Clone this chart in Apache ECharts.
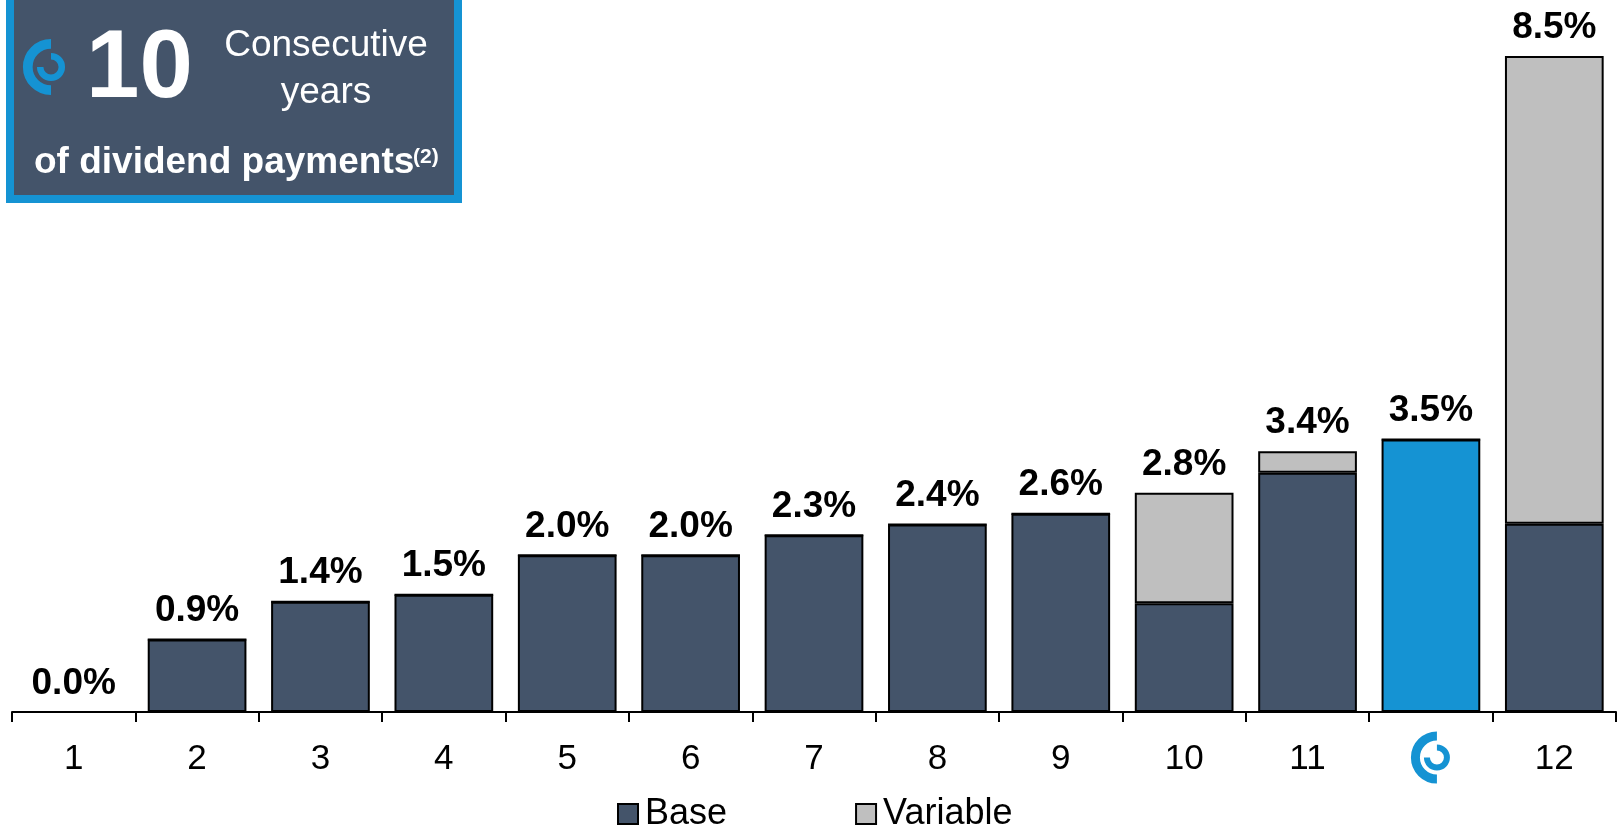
<!DOCTYPE html>
<html lang="en">
<head>
  <meta charset="UTF-8">
  <title>Dividend yield</title>
  <script src="https://cdn.jsdelivr.net/npm/echarts@6/dist/echarts.min.js"></script>
  <style>
    html, body { margin: 0; padding: 0; background: #fff; }
  </style>
</head>
<body>
<div id="main" style="width: 1621px;height: 827px;"></div>
<script>
  // categories, 'logo' is the company itself
  var categories = ['1', '2', '3', '4', '5', '6', '7', '8', '9', '10', '11', 'logo', '12'];
  var baseValues = [0, 0.94, 1.43, 1.52, 2.03, 2.03, 2.29, 2.43, 2.57, 1.41, 3.10, 3.53, 2.44];
  var variableValues = [0, 0, 0, 0, 0, 0, 0, 0, 0, 1.43, 0.28, 0, 6.06];
  var highlightCategory = 'logo';
</script>
<script>
  var FONT = '"Liberation Sans", Arial, sans-serif';
  var DARK = '#44546A';
  var GREY = '#BFBFBF';
  var BLUE = '#1593D3';

  var totals = baseValues.map(function (v, i) { return v + variableValues[i]; });

  var myChart = echarts.init(document.getElementById('main'));

  myChart.setOption({
    animation: false,
    grid: { left: 12, right: 5, top: 56, bottom: 115 },
    legend: {
      data: ['Base', 'Variable'],
      bottom: -10,
      left: 612,
      icon: 'rect',
      itemWidth: 20,
      itemHeight: 20,
      itemGap: 128,
      textStyle: { fontFamily: FONT, fontSize: 36, color: '#000', padding: [0, 0, 0, 2] }
    },
    xAxis: {
      type: 'category',
      data: categories,
      axisLine: { lineStyle: { color: '#000', width: 2 } },
      axisTick: { show: true, length: 10, lineStyle: { color: '#000', width: 2 } },
      axisLabel: {
        interval: 0,
        margin: 30,
        fontFamily: FONT,
        fontSize: 35,
        color: '#000',
        formatter: function (v) { return v === highlightCategory ? '' : v; }
      }
    },
    yAxis: { type: 'value', min: 0, max: 8.5, show: false },
    series: [
      {
        name: 'Base',
        type: 'bar',
        stack: 'a',
        barCategoryGap: '20%',
        itemStyle: { color: DARK, borderColor: '#000', borderWidth: 2 },
        data: baseValues.map(function (v, i) {
          if (categories[i] === highlightCategory) {
            return { value: v, itemStyle: { color: BLUE } };
          }
          return v;
        })
      },
      {
        name: 'Variable',
        type: 'bar',
        stack: 'a',
        itemStyle: { color: GREY, borderColor: '#000', borderWidth: 2 },
        data: variableValues
      },
      {
        name: 'Total',
        type: 'bar',
        stack: 'a',
        itemStyle: { color: 'rgba(0,0,0,0)', borderWidth: 0 },
        label: {
          show: true,
          position: 'top',
          distance: 10,
          fontFamily: FONT,
          fontSize: 37,
          fontWeight: 'bold',
          color: '#000',
          formatter: function (p) { return totals[p.dataIndex].toFixed(1) + '%'; }
        },
        data: totals.map(function () { return 0; })
      }
    ]
  });

  // company logo: open outer ring + inner ring
  function logo(cx, cy, s) {
    return [
      {
        type: 'arc',
        shape: { cx: cx, cy: cy, r: 21.5 * s, startAngle: Math.PI / 2, endAngle: Math.PI * 1.5, clockwise: true },
        style: { fill: null, stroke: BLUE, lineWidth: 9 * s }
      },
      {
        type: 'arc',
        shape: { cx: cx, cy: cy, r: 10 * s, startAngle: -Math.PI / 2, endAngle: Math.PI, clockwise: true },
        style: { fill: null, stroke: BLUE, lineWidth: 6 * s }
      }
    ];
  }

  var logoX = myChart.convertToPixel({ xAxisIndex: 0 }, highlightCategory);

  var elements = [
    {
      type: 'rect',
      shape: { x: 10, y: -10, width: 448, height: 209 },
      style: { fill: DARK, stroke: BLUE, lineWidth: 8 }
    },
    {
      type: 'text', left: 86, top: 23,
      style: { text: '10', fill: '#fff', font: 'bold 96px ' + FONT }
    },
    {
      type: 'text', x: 326, y: 46,
      style: { text: 'Consecutive', fill: '#fff', font: '37px ' + FONT, align: 'center', verticalAlign: 'middle' }
    },
    {
      type: 'text', x: 326, y: 93,
      style: { text: 'years', fill: '#fff', font: '37px ' + FONT, align: 'center', verticalAlign: 'middle' }
    },
    {
      type: 'text', x: 34, y: 163,
      style: { text: 'of dividend payments', fill: '#fff', font: 'bold 37px ' + FONT, verticalAlign: 'middle' }
    },
    {
      type: 'text', x: 413, y: 157,
      style: { text: '(2)', fill: '#fff', font: 'bold 21px ' + FONT, verticalAlign: 'middle' }
    }
  ];
  elements = elements.concat(logo(51, 67, 1.08));
  elements = elements.concat(logo(logoX + 6, 757.5, 1));

  myChart.setOption({ graphic: { elements: elements } });
</script>
</body>
</html>
